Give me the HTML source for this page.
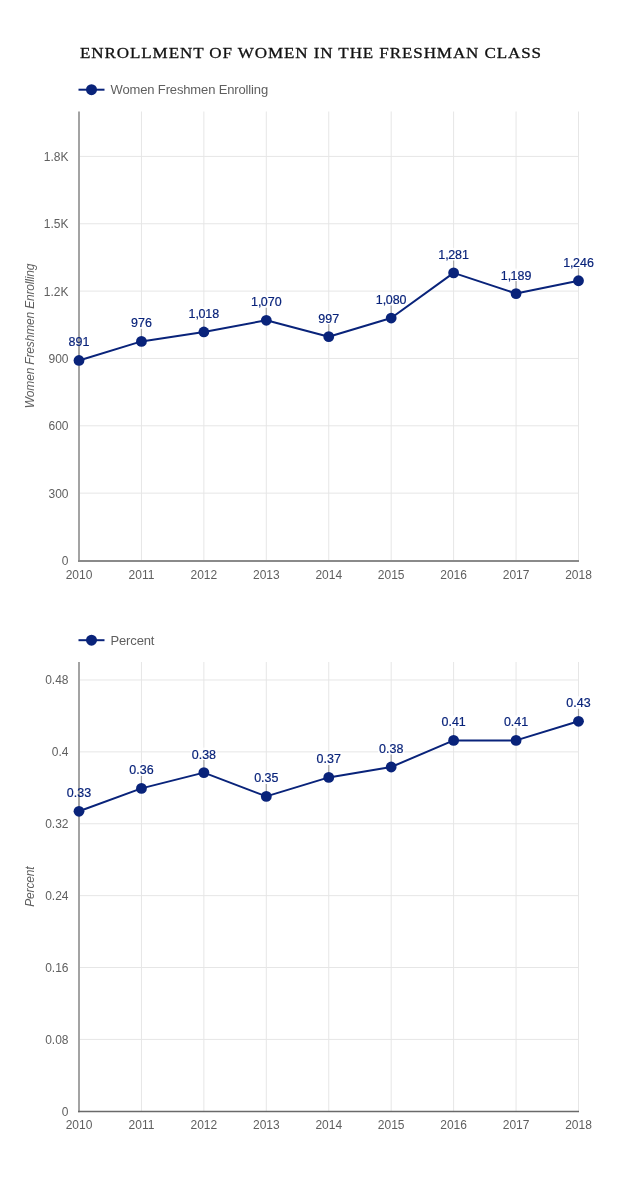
<!DOCTYPE html>
<html><head><meta charset="utf-8">
<style>
html,body{margin:0;padding:0;background:#fff;}
body{width:630px;height:1180px;overflow:hidden;}
svg{display:block;will-change:transform;}
text{font-family:"Liberation Sans",sans-serif;}
.tk{font-size:12px;fill:#5f5f5f;}
.dl{font-size:13px;fill:#09237a;stroke:#09237a;stroke-width:0.2px;}
.lg{font-size:13px;fill:#5f5f5f;letter-spacing:-0.14px;}
.yt{font-size:12px;fill:#5f5f5f;font-style:italic;letter-spacing:-0.17px;}
.title{font-family:"Liberation Serif",serif;font-size:15.5px;fill:#111;stroke:#111;stroke-width:0.3px;letter-spacing:0.82px;}
</style></head>
<body>
<svg width="630" height="1180" viewBox="0 0 630 1180">
<text transform="translate(80 57.9) scale(1.1 1)" class="title">ENROLLMENT OF WOMEN IN THE FRESHMAN CLASS</text>
<line x1="80" y1="493.15" x2="579.00" y2="493.15" stroke="#e6e6e6" stroke-width="1"/>
<line x1="80" y1="425.80" x2="579.00" y2="425.80" stroke="#e6e6e6" stroke-width="1"/>
<line x1="80" y1="358.45" x2="579.00" y2="358.45" stroke="#e6e6e6" stroke-width="1"/>
<line x1="80" y1="291.10" x2="579.00" y2="291.10" stroke="#e6e6e6" stroke-width="1"/>
<line x1="80" y1="223.75" x2="579.00" y2="223.75" stroke="#e6e6e6" stroke-width="1"/>
<line x1="80" y1="156.40" x2="579.00" y2="156.40" stroke="#e6e6e6" stroke-width="1"/>
<line x1="141.44" y1="111.5" x2="141.44" y2="560.5" stroke="#e6e6e6" stroke-width="1"/>
<line x1="203.88" y1="111.5" x2="203.88" y2="560.5" stroke="#e6e6e6" stroke-width="1"/>
<line x1="266.31" y1="111.5" x2="266.31" y2="560.5" stroke="#e6e6e6" stroke-width="1"/>
<line x1="328.75" y1="111.5" x2="328.75" y2="560.5" stroke="#e6e6e6" stroke-width="1"/>
<line x1="391.19" y1="111.5" x2="391.19" y2="560.5" stroke="#e6e6e6" stroke-width="1"/>
<line x1="453.62" y1="111.5" x2="453.62" y2="560.5" stroke="#e6e6e6" stroke-width="1"/>
<line x1="516.06" y1="111.5" x2="516.06" y2="560.5" stroke="#e6e6e6" stroke-width="1"/>
<line x1="578.50" y1="111.5" x2="578.50" y2="560.5" stroke="#e6e6e6" stroke-width="1"/>
<rect x="67.50" y="335.47" width="23.00" height="12.5" fill="#fff" fill-opacity="0.8"/>
<line x1="79.00" y1="347.97" x2="79.00" y2="355.47" stroke="#a8a8a8" stroke-width="1.2"/>
<rect x="129.94" y="316.39" width="23.00" height="12.5" fill="#fff" fill-opacity="0.8"/>
<line x1="141.44" y1="328.89" x2="141.44" y2="336.39" stroke="#a8a8a8" stroke-width="1.2"/>
<rect x="187.18" y="306.96" width="33.40" height="12.5" fill="#fff" fill-opacity="0.8"/>
<line x1="203.88" y1="319.46" x2="203.88" y2="326.96" stroke="#a8a8a8" stroke-width="1.2"/>
<rect x="249.61" y="295.28" width="33.40" height="12.5" fill="#fff" fill-opacity="0.8"/>
<line x1="266.31" y1="307.78" x2="266.31" y2="315.28" stroke="#a8a8a8" stroke-width="1.2"/>
<rect x="317.25" y="311.67" width="23.00" height="12.5" fill="#fff" fill-opacity="0.8"/>
<line x1="328.75" y1="324.17" x2="328.75" y2="331.67" stroke="#a8a8a8" stroke-width="1.2"/>
<rect x="374.49" y="293.04" width="33.40" height="12.5" fill="#fff" fill-opacity="0.8"/>
<line x1="391.19" y1="305.54" x2="391.19" y2="313.04" stroke="#a8a8a8" stroke-width="1.2"/>
<rect x="436.93" y="247.92" width="33.40" height="12.5" fill="#fff" fill-opacity="0.8"/>
<line x1="453.62" y1="260.42" x2="453.62" y2="267.92" stroke="#a8a8a8" stroke-width="1.2"/>
<rect x="499.36" y="268.57" width="33.40" height="12.5" fill="#fff" fill-opacity="0.8"/>
<line x1="516.06" y1="281.07" x2="516.06" y2="288.57" stroke="#a8a8a8" stroke-width="1.2"/>
<rect x="561.80" y="255.77" width="33.40" height="12.5" fill="#fff" fill-opacity="0.8"/>
<line x1="578.50" y1="268.27" x2="578.50" y2="275.77" stroke="#a8a8a8" stroke-width="1.2"/>
<line x1="79" y1="111.5" x2="79" y2="561.5" stroke="#a3a3a3" stroke-width="2"/>
<line x1="78" y1="561" x2="579.00" y2="561" stroke="#8a8a8a" stroke-width="2"/>
<text x="68.5" y="564.90" text-anchor="end" class="tk">0</text>
<text x="68.5" y="497.55" text-anchor="end" class="tk">300</text>
<text x="68.5" y="430.20" text-anchor="end" class="tk">600</text>
<text x="68.5" y="362.85" text-anchor="end" class="tk">900</text>
<text x="68.5" y="295.50" text-anchor="end" class="tk">1.2K</text>
<text x="68.5" y="228.15" text-anchor="end" class="tk">1.5K</text>
<text x="68.5" y="160.80" text-anchor="end" class="tk">1.8K</text>
<text x="79.00" y="578.50" text-anchor="middle" class="tk">2010</text>
<text x="141.44" y="578.50" text-anchor="middle" class="tk">2011</text>
<text x="203.88" y="578.50" text-anchor="middle" class="tk">2012</text>
<text x="266.31" y="578.50" text-anchor="middle" class="tk">2013</text>
<text x="328.75" y="578.50" text-anchor="middle" class="tk">2014</text>
<text x="391.19" y="578.50" text-anchor="middle" class="tk">2015</text>
<text x="453.62" y="578.50" text-anchor="middle" class="tk">2016</text>
<text x="516.06" y="578.50" text-anchor="middle" class="tk">2017</text>
<text x="578.50" y="578.50" text-anchor="middle" class="tk">2018</text>
<text transform="translate(34 336.00) rotate(-90)" text-anchor="middle" class="yt">Women Freshmen Enrolling</text>
<path d="M79.00 360.47 L141.44 341.39 L203.88 331.96 L266.31 320.28 L328.75 336.67 L391.19 318.04 L453.62 272.92 L516.06 293.57 L578.50 280.77" fill="none" stroke="#09237a" stroke-width="2" stroke-linejoin="round"/>
<circle cx="79.00" cy="360.47" r="5.4" fill="#09237a"/>
<circle cx="141.44" cy="341.39" r="5.4" fill="#09237a"/>
<circle cx="203.88" cy="331.96" r="5.4" fill="#09237a"/>
<circle cx="266.31" cy="320.28" r="5.4" fill="#09237a"/>
<circle cx="328.75" cy="336.67" r="5.4" fill="#09237a"/>
<circle cx="391.19" cy="318.04" r="5.4" fill="#09237a"/>
<circle cx="453.62" cy="272.92" r="5.4" fill="#09237a"/>
<circle cx="516.06" cy="293.57" r="5.4" fill="#09237a"/>
<circle cx="578.50" cy="280.77" r="5.4" fill="#09237a"/>
<text transform="translate(79.00 346.47) scale(0.96 1.04)" text-anchor="middle" class="dl">891</text>
<text transform="translate(141.44 327.39) scale(0.96 1.04)" text-anchor="middle" class="dl">976</text>
<text transform="translate(203.88 317.96) scale(0.96 1.04)" text-anchor="middle" class="dl">1,<tspan dx="-0.5">018</tspan></text>
<text transform="translate(266.31 306.28) scale(0.96 1.04)" text-anchor="middle" class="dl">1,<tspan dx="-0.5">070</tspan></text>
<text transform="translate(328.75 322.67) scale(0.96 1.04)" text-anchor="middle" class="dl">997</text>
<text transform="translate(391.19 304.04) scale(0.96 1.04)" text-anchor="middle" class="dl">1,<tspan dx="-0.5">080</tspan></text>
<text transform="translate(453.62 258.92) scale(0.96 1.04)" text-anchor="middle" class="dl">1,<tspan dx="-0.5">281</tspan></text>
<text transform="translate(516.06 279.57) scale(0.96 1.04)" text-anchor="middle" class="dl">1,<tspan dx="-0.5">189</tspan></text>
<text transform="translate(578.50 266.77) scale(0.96 1.04)" text-anchor="middle" class="dl">1,<tspan dx="-0.5">246</tspan></text>
<line x1="78.5" y1="89.7" x2="104.5" y2="89.7" stroke="#09237a" stroke-width="2"/>
<circle cx="91.5" cy="89.7" r="5.5" fill="#09237a"/>
<text x="110.5" y="94.2" class="lg">Women Freshmen Enrolling</text>
<line x1="80" y1="1039.41" x2="579.00" y2="1039.41" stroke="#e6e6e6" stroke-width="1"/>
<line x1="80" y1="967.52" x2="579.00" y2="967.52" stroke="#e6e6e6" stroke-width="1"/>
<line x1="80" y1="895.64" x2="579.00" y2="895.64" stroke="#e6e6e6" stroke-width="1"/>
<line x1="80" y1="823.75" x2="579.00" y2="823.75" stroke="#e6e6e6" stroke-width="1"/>
<line x1="80" y1="751.86" x2="579.00" y2="751.86" stroke="#e6e6e6" stroke-width="1"/>
<line x1="80" y1="679.97" x2="579.00" y2="679.97" stroke="#e6e6e6" stroke-width="1"/>
<line x1="141.44" y1="662" x2="141.44" y2="1111.3" stroke="#e6e6e6" stroke-width="1"/>
<line x1="203.88" y1="662" x2="203.88" y2="1111.3" stroke="#e6e6e6" stroke-width="1"/>
<line x1="266.31" y1="662" x2="266.31" y2="1111.3" stroke="#e6e6e6" stroke-width="1"/>
<line x1="328.75" y1="662" x2="328.75" y2="1111.3" stroke="#e6e6e6" stroke-width="1"/>
<line x1="391.19" y1="662" x2="391.19" y2="1111.3" stroke="#e6e6e6" stroke-width="1"/>
<line x1="453.62" y1="662" x2="453.62" y2="1111.3" stroke="#e6e6e6" stroke-width="1"/>
<line x1="516.06" y1="662" x2="516.06" y2="1111.3" stroke="#e6e6e6" stroke-width="1"/>
<line x1="578.50" y1="662" x2="578.50" y2="1111.3" stroke="#e6e6e6" stroke-width="1"/>
<rect x="65.80" y="786.30" width="26.40" height="12.5" fill="#fff" fill-opacity="0.8"/>
<line x1="79.00" y1="798.80" x2="79.00" y2="806.30" stroke="#a8a8a8" stroke-width="1.2"/>
<rect x="128.24" y="763.40" width="26.40" height="12.5" fill="#fff" fill-opacity="0.8"/>
<line x1="141.44" y1="775.90" x2="141.44" y2="783.40" stroke="#a8a8a8" stroke-width="1.2"/>
<rect x="190.68" y="747.60" width="26.40" height="12.5" fill="#fff" fill-opacity="0.8"/>
<line x1="203.88" y1="760.10" x2="203.88" y2="767.60" stroke="#a8a8a8" stroke-width="1.2"/>
<rect x="253.11" y="771.40" width="26.40" height="12.5" fill="#fff" fill-opacity="0.8"/>
<line x1="266.31" y1="783.90" x2="266.31" y2="791.40" stroke="#a8a8a8" stroke-width="1.2"/>
<rect x="315.55" y="752.40" width="26.40" height="12.5" fill="#fff" fill-opacity="0.8"/>
<line x1="328.75" y1="764.90" x2="328.75" y2="772.40" stroke="#a8a8a8" stroke-width="1.2"/>
<rect x="377.99" y="742.00" width="26.40" height="12.5" fill="#fff" fill-opacity="0.8"/>
<line x1="391.19" y1="754.50" x2="391.19" y2="762.00" stroke="#a8a8a8" stroke-width="1.2"/>
<rect x="440.43" y="715.40" width="26.40" height="12.5" fill="#fff" fill-opacity="0.8"/>
<line x1="453.62" y1="727.90" x2="453.62" y2="735.40" stroke="#a8a8a8" stroke-width="1.2"/>
<rect x="502.86" y="715.40" width="26.40" height="12.5" fill="#fff" fill-opacity="0.8"/>
<line x1="516.06" y1="727.90" x2="516.06" y2="735.40" stroke="#a8a8a8" stroke-width="1.2"/>
<rect x="565.30" y="696.30" width="26.40" height="12.5" fill="#fff" fill-opacity="0.8"/>
<line x1="578.50" y1="708.80" x2="578.50" y2="716.30" stroke="#a8a8a8" stroke-width="1.2"/>
<line x1="79" y1="662" x2="79" y2="1112.3" stroke="#a3a3a3" stroke-width="2"/>
<line x1="78" y1="1111.5" x2="579.00" y2="1111.5" stroke="#6a6a6a" stroke-width="1.5"/>
<text x="68.5" y="1115.70" text-anchor="end" class="tk">0</text>
<text x="68.5" y="1043.81" text-anchor="end" class="tk">0.08</text>
<text x="68.5" y="971.92" text-anchor="end" class="tk">0.16</text>
<text x="68.5" y="900.04" text-anchor="end" class="tk">0.24</text>
<text x="68.5" y="828.15" text-anchor="end" class="tk">0.32</text>
<text x="68.5" y="756.26" text-anchor="end" class="tk">0.4</text>
<text x="68.5" y="684.37" text-anchor="end" class="tk">0.48</text>
<text x="79.00" y="1129.30" text-anchor="middle" class="tk">2010</text>
<text x="141.44" y="1129.30" text-anchor="middle" class="tk">2011</text>
<text x="203.88" y="1129.30" text-anchor="middle" class="tk">2012</text>
<text x="266.31" y="1129.30" text-anchor="middle" class="tk">2013</text>
<text x="328.75" y="1129.30" text-anchor="middle" class="tk">2014</text>
<text x="391.19" y="1129.30" text-anchor="middle" class="tk">2015</text>
<text x="453.62" y="1129.30" text-anchor="middle" class="tk">2016</text>
<text x="516.06" y="1129.30" text-anchor="middle" class="tk">2017</text>
<text x="578.50" y="1129.30" text-anchor="middle" class="tk">2018</text>
<text transform="translate(34 886.65) rotate(-90)" text-anchor="middle" class="yt">Percent</text>
<path d="M79.00 811.30 L141.44 788.40 L203.88 772.60 L266.31 796.40 L328.75 777.40 L391.19 767.00 L453.62 740.40 L516.06 740.40 L578.50 721.30" fill="none" stroke="#09237a" stroke-width="2" stroke-linejoin="round"/>
<circle cx="79.00" cy="811.30" r="5.4" fill="#09237a"/>
<circle cx="141.44" cy="788.40" r="5.4" fill="#09237a"/>
<circle cx="203.88" cy="772.60" r="5.4" fill="#09237a"/>
<circle cx="266.31" cy="796.40" r="5.4" fill="#09237a"/>
<circle cx="328.75" cy="777.40" r="5.4" fill="#09237a"/>
<circle cx="391.19" cy="767.00" r="5.4" fill="#09237a"/>
<circle cx="453.62" cy="740.40" r="5.4" fill="#09237a"/>
<circle cx="516.06" cy="740.40" r="5.4" fill="#09237a"/>
<circle cx="578.50" cy="721.30" r="5.4" fill="#09237a"/>
<text transform="translate(79.00 797.30) scale(0.96 1.04)" text-anchor="middle" class="dl">0.33</text>
<text transform="translate(141.44 774.40) scale(0.96 1.04)" text-anchor="middle" class="dl">0.36</text>
<text transform="translate(203.88 758.60) scale(0.96 1.04)" text-anchor="middle" class="dl">0.38</text>
<text transform="translate(266.31 782.40) scale(0.96 1.04)" text-anchor="middle" class="dl">0.35</text>
<text transform="translate(328.75 763.40) scale(0.96 1.04)" text-anchor="middle" class="dl">0.37</text>
<text transform="translate(391.19 753.00) scale(0.96 1.04)" text-anchor="middle" class="dl">0.38</text>
<text transform="translate(453.62 726.40) scale(0.96 1.04)" text-anchor="middle" class="dl">0.41</text>
<text transform="translate(516.06 726.40) scale(0.96 1.04)" text-anchor="middle" class="dl">0.41</text>
<text transform="translate(578.50 707.30) scale(0.96 1.04)" text-anchor="middle" class="dl">0.43</text>
<line x1="78.5" y1="640.2" x2="104.5" y2="640.2" stroke="#09237a" stroke-width="2"/>
<circle cx="91.5" cy="640.2" r="5.5" fill="#09237a"/>
<text x="110.5" y="644.7" class="lg">Percent</text>
</svg>
</body></html>
